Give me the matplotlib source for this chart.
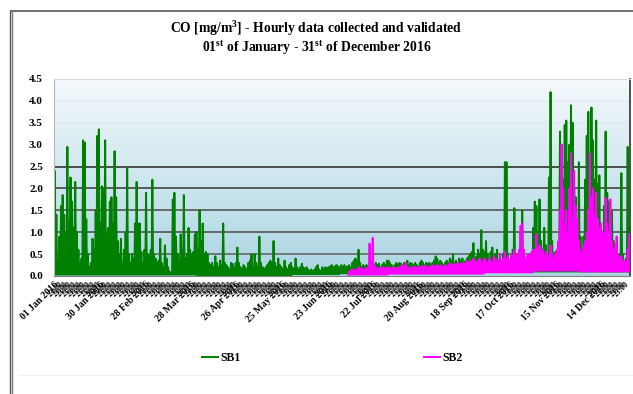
import numpy as np
import pandas as pd
import matplotlib
matplotlib.use("Agg")
import matplotlib.pyplot as plt
from matplotlib.colors import LinearSegmentedColormap
from matplotlib.lines import Line2D

plt.rcParams['font.family'] = ['Liberation Serif', 'DejaVu Serif']
plt.rcParams['font.weight'] = 'bold'
plt.rcParams['mathtext.fontset'] = 'custom'
plt.rcParams['mathtext.rm'] = 'Liberation Serif:bold'
plt.rcParams['mathtext.bf'] = 'Liberation Serif:bold'

# daily peak values (mg/m3), SB1 from 1 Jan
sb1_jan = [2.4, 1.4, 0.3, 0.9, 1.6, 1.85, 1.4, 1.0, 2.95, 1.2,
           2.25, 1.7, 1.1, 2.15, 1.0, 0.6, 0.3, 0.4, 3.1, 3.05,
           1.3, 0.5, 0.2, 0.3, 0.85, 0.6, 1.5, 3.2, 3.35, 1.2,
           2.05]
sb1_feb = [2.0, 3.1, 1.0, 1.1, 1.7, 1.8, 1.2, 2.85, 1.8, 0.8,
           0.5, 0.85, 0.3, 0.6, 1.0, 2.45, 0.5, 0.3, 0.5, 0.4,
           1.2, 2.15, 1.2, 1.2, 0.55, 0.3, 0.6, 1.9, 0.5]
sb1_mar = [0.45, 0.6, 2.2, 0.5, 0.4, 0.3, 0.35, 0.85, 0.3, 0.2,
           0.7, 0.4, 0.2, 0.1, 0.05, 1.75, 1.9, 0.9, 0.5, 0.35,
           0.95, 0.6, 1.85, 0.4, 0.5, 1.1, 0.6, 0.5, 0.55, 0.95,
           1.0]
sb1_apr = [0.6, 1.5, 0.8, 1.2, 0.5, 0.55, 0.5, 0.3, 0.25, 0.3,
           0.2, 0.45, 0.3, 0.2, 0.35, 0.25, 1.2, 0.3, 0.25, 0.2,
           0.15, 0.3, 0.28, 0.2, 0.3, 0.65, 0.3, 0.2, 0.15, 0.25]
sb1_may = [0.2, 0.15, 0.3, 0.35, 0.5, 0.2, 0.5, 0.3, 0.2, 0.9,
           0.3, 0.2, 0.15, 0.2, 0.25, 0.3, 0.35, 0.3, 0.8, 0.3,
           0.2, 0.4, 0.25, 0.2, 0.15, 0.35, 0.2, 0.15, 0.25, 0.3,
           0.2]
sb1_jun = [0.15, 0.4, 0.2, 0.15, 0.2, 0.28, 0.2, 0.15, 0.2, 0.15,
           0.12, 0.15, 0.1, 0.15, 0.2, 0.25, 0.15, 0.12, 0.2, 0.15,
           0.2, 0.18, 0.2, 0.22, 0.25, 0.2, 0.22, 0.25, 0.22, 0.2]
sb1_jul = [0.25, 0.2, 0.25, 0.2, 0.22, 0.25, 0.2, 0.3, 0.35, 0.4,
           0.35, 0.6, 0.3, 0.2, 0.25, 0.2, 0.25, 0.22, 0.2, 0.25,
           0.3, 0.25, 0.3, 0.25, 0.28, 0.2, 0.25, 0.3, 0.25, 0.35,
           0.35]
sb1_aug = [0.3, 0.25, 0.2, 0.25, 0.3, 0.25, 0.3, 0.28, 0.25, 0.3,
           0.25, 0.35, 0.25, 0.3, 0.28, 0.25, 0.3, 0.25, 0.2, 0.3,
           0.35, 0.3, 0.25, 0.3, 0.28, 0.3, 0.25, 0.3, 0.35, 0.45,
           0.4]
sb1_sep = [0.3, 0.35, 0.3, 0.25, 0.3, 0.35, 0.3, 0.4, 0.35, 0.5,
           0.3, 0.35, 0.3, 0.4, 0.35, 0.4, 0.3, 0.35, 0.4, 0.45,
           0.5, 0.55, 0.75, 0.4, 0.45, 0.6, 0.5, 1.05, 0.6, 0.55]
sb1_oct = [0.8, 0.5, 0.4, 0.55, 0.65, 0.4, 0.5, 0.6, 0.35, 0.4,
           0.3, 0.5, 2.6, 2.6, 0.5, 0.3, 0.35, 0.6, 1.55, 0.4,
           0.3, 0.45, 1.0, 1.5, 0.6, 0.35, 0.3, 0.4, 0.3, 0.5,
           1.1]
sb1_nov = [1.7, 1.6, 0.9, 1.75, 0.8, 0.6, 1.1, 0.7, 0.5, 2.25,
           4.2, 0.8, 0.5, 0.55, 0.4, 0.6, 3.3, 3.0, 2.2, 3.45,
           3.55, 2.6, 3.0, 3.9, 3.5, 2.0, 1.8, 1.0, 2.6, 0.9]
sb1_dec = [0.6, 0.9, 2.2, 3.2, 3.75, 2.4, 3.85, 3.1, 2.2, 3.55,
           2.1, 2.3, 1.2, 0.9, 1.6, 3.3, 1.9, 1.7, 1.2, 1.5,
           0.8, 0.5, 0.7, 0.4, 0.5, 2.35, 0.5, 0.3, 0.4, 2.95,
           1.1]
# monthly floor of the hourly values
sb1_low = [0.03, 0.03, 0.03, 0.02, 0.02, 0.04, 0.06, 0.08, 0.08, 0.1, 0.1, 0.1]

# SB2 starts on 6 Jul
sb2_start = '2016-07-06'
sb2_jul = [0.1, 0.12, 0.15, 0.12, 0.15, 0.12, 0.2, 0.15, 0.18, 0.15,
           0.15, 0.2, 0.15, 0.74, 0.3, 0.87, 0.25, 0.2, 0.18, 0.15,
           0.2, 0.18, 0.2, 0.15, 0.2, 0.18]
sb2_aug = [0.2, 0.15, 0.2, 0.18, 0.15, 0.2, 0.2, 0.22, 0.25, 0.2,
           0.3, 0.2, 0.18, 0.2, 0.15, 0.2, 0.22, 0.2, 0.18, 0.2,
           0.22, 0.2, 0.25, 0.2, 0.18, 0.22, 0.2, 0.25, 0.2, 0.22,
           0.25]
sb2_sep = [0.2, 0.25, 0.22, 0.2, 0.25, 0.22, 0.25, 0.3, 0.25, 0.22,
           0.28, 0.25, 0.3, 0.25, 0.28, 0.3, 0.25, 0.3, 0.35, 0.3,
           0.35, 0.3, 0.4, 0.35, 0.3, 0.35, 0.4, 0.3, 0.35, 0.4]
sb2_oct = [0.35, 0.3, 0.4, 0.35, 0.3, 0.45, 0.4, 0.35, 0.3, 0.5,
           0.35, 0.4, 0.55, 0.4, 0.45, 0.35, 0.5, 0.45, 0.6, 0.4,
           0.5, 0.6, 1.15, 1.2, 0.6, 0.4, 0.45, 0.5, 0.45, 0.55,
           0.6]
sb2_nov = [0.6, 0.95, 0.6, 0.7, 0.5, 0.6, 0.45, 0.55, 0.5, 0.45,
           0.7, 0.5, 0.4, 0.5, 0.6, 0.8, 1.5, 3.0, 2.0, 1.2,
           1.5, 1.0, 2.0, 2.8, 1.2, 2.4, 1.6, 1.3, 0.8, 0.6]
sb2_dec = [0.5, 0.7, 0.8, 1.0, 1.5, 2.8, 1.8, 2.0, 1.4, 1.9,
           1.3, 1.1, 1.2, 1.0, 0.9, 1.78, 1.2, 1.0, 1.75, 0.8,
           0.6, 0.7, 0.9, 0.5, 0.4, 0.45, 0.3, 0.35, 0.3, 0.6,
           0.95]
sb2_low = [0, 0, 0, 0, 0, 0, 0.03, 0.05, 0.05, 0.08, 0.12, 0.1]

sb1_hi = sb1_jan + sb1_feb + sb1_mar + sb1_apr + sb1_may + sb1_jun + \
    sb1_jul + sb1_aug + sb1_sep + sb1_oct + sb1_nov + sb1_dec
sb2_hi = sb2_jul + sb2_aug + sb2_sep + sb2_oct + sb2_nov + sb2_dec

year_start = pd.Timestamp('2016-01-01')
major_step = 29  # one label every 29 days


# hourly look: each day goes from its floor up to its peak
def zigzag(first, highs, lows):
    d0 = (pd.Timestamp(first) - year_start).days
    days = np.arange(d0, d0 + len(highs))
    months = (year_start + pd.to_timedelta(days, unit='D')).month - 1
    lo = np.array(lows)[months]
    x = np.column_stack([days, days + 0.5]).ravel()
    y = np.column_stack([lo, np.array(highs)]).ravel()
    return x, y


fig = plt.figure(figsize=(6.33, 3.94), dpi=100)
ax = fig.add_axes([0.0853, 0.2995, 0.91, 0.5])

# background gradient
cmap = LinearSegmentedColormap.from_list('bg', ['#f4f9fb', '#aad5e3'])
grad = np.linspace(0, 1, 256).reshape(-1, 1)
ax.imshow(grad, extent=[0, 1, 0, 1], transform=ax.transAxes, aspect='auto',
          cmap=cmap, zorder=0)

grid_cols = {0.5: '#666666', 1.0: '#555555', 1.5: '#555555', 2.0: '#444444',
             2.5: '#333333', 3.0: '#dbe8ee', 3.5: '#dde9ee', 4.0: '#e2ecf0'}
for lev, c in grid_cols.items():
    ax.axhline(lev, color=c, lw=1.2, zorder=1)

x1, y1 = zigzag('2016-01-01', sb1_hi, sb1_low)
x2, y2 = zigzag(sb2_start, sb2_hi, sb2_low)
ax.plot(x1, y1, color='#008000', lw=1.4, label='SB1', zorder=2)
ax.plot(x2, y2, color='#ff00ff', lw=1.4, label='SB2', zorder=3)

ax.set_xlim(0, 366)
ax.set_ylim(0, 4.5)
ax.set_yticks(np.arange(0, 4.6, 0.5))
ax.set_yticklabels(['%.1f' % v for v in np.arange(0, 4.6, 0.5)])

major = np.arange(0, 366, major_step)
ax.set_xticks(major, labels=[(year_start + pd.Timedelta(days=int(d))).strftime('%d %b %Y')
                             for d in major])
minor = [m + k for m in major for k in range(3, 28, 3) if m + k < 366]
ax.set_xticks(minor, labels=['23:00'] * len(minor), minor=True)
plt.setp(ax.get_xticklabels(), rotation=45, ha='right', rotation_mode='anchor',
         fontsize=7, fontweight='bold')
plt.setp(ax.get_xticklabels(minor=True), rotation=45, ha='right',
         rotation_mode='anchor', fontsize=5.5, fontweight='bold')
ax.tick_params(axis='x', which='both', length=0, pad=3)
ax.tick_params(axis='y', length=0, pad=8, labelsize=8)

ax.spines['left'].set_color('#b8b8b8')
ax.spines['top'].set_color('#dcdcdc')
ax.spines['bottom'].set_color('#808080')
ax.spines['right'].set_color('#404040')
ax.spines['right'].set_linewidth(1.3)

fig.text(0.5, 0.929, 'CO [mg/m$^{\\mathrm{3}}$] - Hourly data collected and validated',
         ha='center', va='center', fontsize=9.8, fontweight='bold')
fig.text(0.5, 0.880, '01$^{\\mathrm{st}}$ of January - 31$^{\\mathrm{st}}$ of December 2016',
         ha='center', va='center', fontsize=9.8, fontweight='bold')

fig.legend(loc='center', bbox_to_anchor=(0.525, 0.091), ncol=2, frameon=False,
           handlelength=1.4, handletextpad=0.2, columnspacing=15.5,
           prop={'size': 8.5, 'weight': 'bold'})

# outer frame of the chart
fig.add_artist(Line2D([0.017, 1.0], [0.972, 0.972], color='#555555', lw=1.2))
fig.add_artist(Line2D([0.016, 0.016], [0.0, 0.972], color='#555555', lw=1.0))
fig.add_artist(Line2D([0.019, 0.019], [0.0, 0.972], color='#777777', lw=1.0))
fig.add_artist(Line2D([0.03, 1.0], [0.048, 0.048], color='#f2f2f2', lw=0.8))

fig.savefig('out.png', dpi=100)
